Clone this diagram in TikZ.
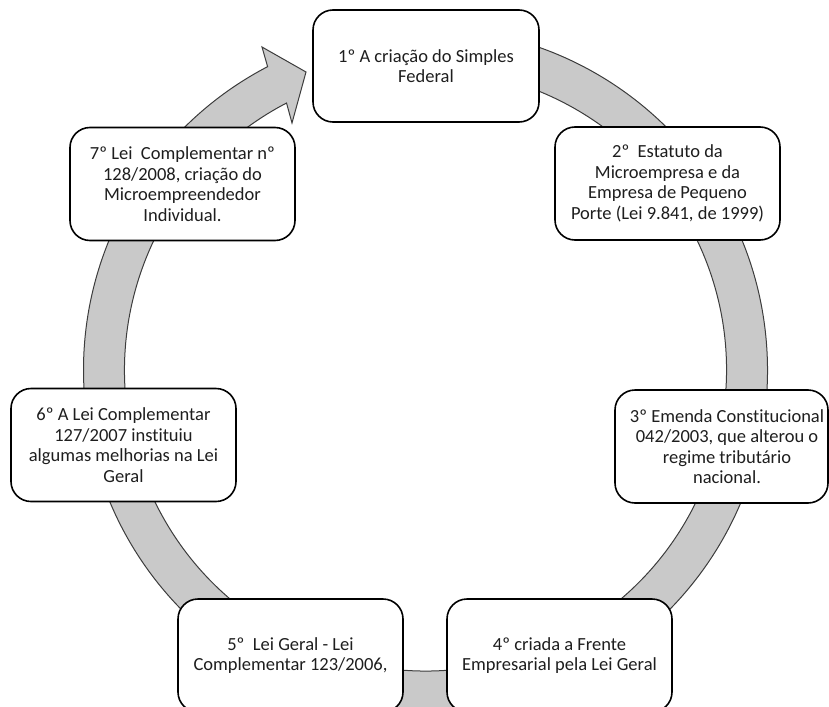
\documentclass[tikz,border=0pt]{standalone}
\usepackage{fontspec}
\setmainfont[Ligatures={NoCommon}]{Carlito}
\definecolor{ringgray}{HTML}{C9C9C9}
\definecolor{ringedge}{HTML}{3C3C3C}
\definecolor{txtgray}{HTML}{1E1E1E}
\begin{document}
\begin{tikzpicture}[x=1pt,y=1pt,
  ring/.style={fill=ringgray, draw=ringedge, line width=1pt, line join=miter},
  box/.style={draw=black, line width=1.6pt, fill=white, rounded corners=20pt,
    minimum width=225pt, minimum height=113pt, inner sep=0pt,
    align=center, font=\fontsize{18.5}{20.5}\selectfont, text=txtgray},
  lbl/.style={align=center, font=\fontsize{18.5}{20.5}\selectfont, inner sep=0pt, text=txtgray}]
\useasboundingbox (0,0) rectangle (829,-706);
\clip (0,0) rectangle (829,-706);
\coordinate (c) at (425.5,-370);
\begin{scope}[shift={(c)}]
\draw[ring] (95:342) arc[start angle=95,end angle=-242.5,radius=342]
  -- (-163.5,323) -- (-119.5,298) -- (-133.5,247)
  -- (-242.5:301) arc[start angle=-242.5,end angle=95,radius=301] -- cycle;
\end{scope}
\node[box, minimum width=226pt, minimum height=112pt] (b1) at (426,-66) {1º A criação do Simples\\Federal};
\node[box] (b2) at (667.5,-183.5) {2º\ \ Estatuto da\\Microempresa e da\\Empresa de Pequeno\\Porte (Lei 9.841, de 1999)};
\node[box, minimum width=213pt] (b3) at (721.5,-446.5) {};
\node[lbl] (t3) at (727,-446.5) {3º Emenda Constitucional\\042/2003, que alterou o\\regime tributário\\nacional.};
\node[box] (b4) at (559.5,-655.5) {4º criada a Frente\\Empresarial pela Lei Geral};
\node[box] (b5) at (290.5,-655.5) {5º\ \ Lei Geral - Lei\\Complementar 123/2006,};
\node[box] (b6) at (123.5,-445) {6º A Lei Complementar\\127/2007 instituiu\\algumas melhorias na Lei\\Geral};
\node[box] (b7) at (182.5,-184) {7º Lei\ \ Complementar nº\\128/2008, criação do\\Microempreendedor\\Individual.};
\end{tikzpicture}
\end{document}
